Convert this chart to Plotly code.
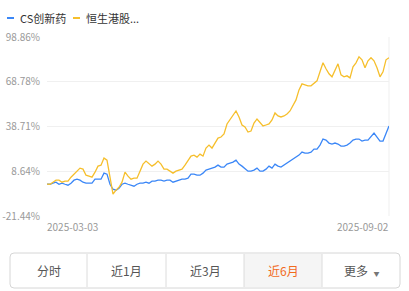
import plotly.graph_objects as go

series_names = ["CS创新药", "恒生港股..."]
x_labels = ["2025-03-03", "2025-09-02"]
y_ticks = [-21.44, 8.64, 38.71, 68.78, 98.86]
y_ticktext = ["-21.44%", "8.64%", "38.71%", "68.78%", "98.86%"]
buttons = ["分时", "近1月", "近3月", "近6月", "更多  <span style='font-size:6px;color:#777777'>▼</span>"]
active_button = 3

cs_values = [0.00, -0.1, 0.61, 1.28, -0.1, 0.61, -0.1, -0.74, 0.61, 2.63,
             3.30, 2.63, 1.28, 0.61, 0.61, 0.61, 3.30, 3.30, 3.30, 7.35,
             6.68, -0.1, -3.44, -4.11, -2.76, -0.1, 0.61, -0.1, -0.74, -1.42,
             -0.1, 0.61, 0.61, 1.28, 0.61, 1.96, 1.96, 2.63, 2.63, 1.96,
             2.63, 2.63, 1.28, 1.96, 2.63, 3.30, 3.30, 3.98, 6.68, 6.68,
             6.00, 6.00, 7.35, 9.37, 10.05, 10.72, 11.40, 12.74, 11.40, 11.40,
             13.42, 14.09, 14.77, 16.12, 13.42, 12.07, 10.05, 8.70, 8.70, 9.37,
             10.72, 8.70, 8.70, 10.05, 12.07, 10.72, 13.42, 12.07, 11.40, 12.74,
             14.09, 15.44, 16.79, 18.14, 19.48, 21.51, 20.84, 20.84, 21.51, 23.53,
             23.53, 26.23, 30.28, 29.60, 27.58, 26.90, 27.58, 26.90, 25.56, 25.56,
             26.23, 27.58, 29.60, 30.28, 30.28, 28.93, 29.60, 29.60, 32.30, 34.32,
             31.63, 28.93, 28.93, 34.32, 39.05]

hs_values = [0.00, -0.1, 1.28, 2.63, 2.63, 1.28, 1.96, 1.96, 4.65, 6.68,
             9.37, 10.72, 10.05, 6.00, 5.33, 4.65, 8.02, 12.07, 12.74, 17.47,
             16.12, 4.65, -6.81, -4.11, -2.09, 1.28, 8.02, 5.33, 3.30, 3.98,
             3.98, 8.70, 13.42, 15.44, 13.42, 12.07, 13.42, 15.44, 13.42, 10.05,
             10.05, 8.70, 7.35, 8.70, 9.37, 10.05, 12.74, 15.44, 18.81, 19.48,
             18.14, 20.16, 18.81, 24.21, 26.23, 24.21, 27.58, 30.95, 31.63, 33.65,
             40.40, 43.09, 46.46, 49.16, 45.11, 39.72, 38.37, 35.00, 35.67, 41.07,
             43.77, 41.07, 39.05, 39.72, 40.40, 43.09, 47.81, 45.79, 45.11, 45.79,
             47.14, 49.16, 52.53, 56.58, 63.32, 67.37, 66.69, 66.02, 66.02, 68.04,
             69.39, 75.46, 81.53, 77.48, 74.11, 72.09, 76.13, 80.85, 73.43, 72.09,
             72.76, 71.41, 78.83, 81.53, 85.57, 83.55, 78.15, 82.88, 84.90, 82.88,
             78.15, 72.09, 75.46, 83.55, 84.90]

colors = ["#3b87f7", "#f6bf2c"]
FONT = "Noto Sans CJK SC, Noto Sans, sans-serif"

W, H = 409, 291
L, R, T, B = 47, 20, 37, 75
PW, PH = W - L - R, H - T - B


def px(xp):
    return (xp - L) / PW


def py(yp):
    return (H - B - yp) / PH


idx = list(range(len(cs_values)))
fig = go.Figure()
for name, vals, c in [(series_names[0], cs_values, colors[0]), (series_names[1], hs_values, colors[1])]:
    fig.add_trace(go.Scatter(x=idx, y=vals, mode="lines", name=name,
                             line=dict(color=c, width=1.3), hoverinfo="skip",
                             showlegend=False))

shapes = []
annotations = []

# right border of the plot
shapes.append(dict(type="line", xref="paper", yref="paper", x0=1, x1=1, y0=0, y1=1,
                   line=dict(color="#efefef", width=1), layer="below"))

# legend
leg_x = [7, 73]
for i, name in enumerate(series_names):
    shapes.append(dict(type="line", xref="paper", yref="paper",
                       x0=px(leg_x[i]), x1=px(leg_x[i] + 7), y0=py(18), y1=py(18),
                       line=dict(color=colors[i], width=2)))
    annotations.append(dict(text=name, xref="paper", yref="paper", x=px(leg_x[i] + 11), y=py(18),
                            xanchor="left", yanchor="middle", showarrow=False,
                            font=dict(family=FONT, size=11, color="#333333")))

# x labels at the ends
annotations.append(dict(text=x_labels[0], xref="paper", yref="paper", x=0, y=py(226),
                        xanchor="left", yanchor="middle", showarrow=False, xshift=-2,
                        font=dict(family=FONT, size=10, color="#999999")))
annotations.append(dict(text=x_labels[1], xref="paper", yref="paper", x=1, y=py(226),
                        xanchor="right", yanchor="middle", showarrow=False, xshift=2,
                        font=dict(family=FONT, size=10, color="#999999")))

# button bar
bx0, bx1, by0, by1 = 10, 400, 253, 288
dividers = [10, 87, 166, 244, 322, 400]
shapes.append(dict(type="rect", xref="paper", yref="paper",
                   x0=px(dividers[active_button]), x1=px(dividers[active_button + 1]),
                   y0=py(by1 - 1), y1=py(by0 + 1), fillcolor="#f5f5f5", line=dict(width=0)))
r = 4
rx, ry = r / PW, r / PH
x0, x1, y0, y1 = px(bx0), px(bx1), py(by1), py(by0)
path = (f"M {x0+rx} {y1} L {x1-rx} {y1} Q {x1} {y1} {x1} {y1-ry} "
        f"L {x1} {y0+ry} Q {x1} {y0} {x1-rx} {y0} L {x0+rx} {y0} "
        f"Q {x0} {y0} {x0} {y0+ry} L {x0} {y1-ry} Q {x0} {y1} {x0+rx} {y1} Z")
shapes.append(dict(type="path", xref="paper", yref="paper", path=path,
                   line=dict(color="#d6d6d6", width=1)))
for d in dividers[1:-1]:
    shapes.append(dict(type="line", xref="paper", yref="paper", x0=px(d), x1=px(d),
                       y0=py(by1 - 1), y1=py(by0 + 1), line=dict(color="#dcdcdc", width=1)))
for i, b in enumerate(buttons):
    cx = (dividers[i] + dividers[i + 1]) / 2
    annotations.append(dict(text=b, xref="paper", yref="paper", x=px(cx), y=py(270.5),
                            xanchor="center", yanchor="middle", showarrow=False,
                            font=dict(family=FONT, size=12,
                                      color="#f26b1d" if i == active_button else "#555555")))

fig.update_layout(
    width=W, height=H,
    margin=dict(l=L, r=R, t=T, b=B, autoexpand=False),
    paper_bgcolor="white", plot_bgcolor="white",
    shapes=shapes, annotations=annotations,
    xaxis=dict(range=[0, len(idx) - 1], showgrid=False, zeroline=False,
               showticklabels=False, showline=False, fixedrange=True, automargin=False),
    yaxis=dict(range=[y_ticks[0], y_ticks[-1]], tickvals=y_ticks, ticktext=y_ticktext,
               showgrid=True, gridcolor="#f0f0f0", gridwidth=1, zeroline=False,
               showline=False, ticks="", ticklabelstandoff=6, automargin=False,
               tickfont=dict(family=FONT, size=10, color="#999999"), fixedrange=True),
    hovermode=False,
)

fig.write_html("out.html")
